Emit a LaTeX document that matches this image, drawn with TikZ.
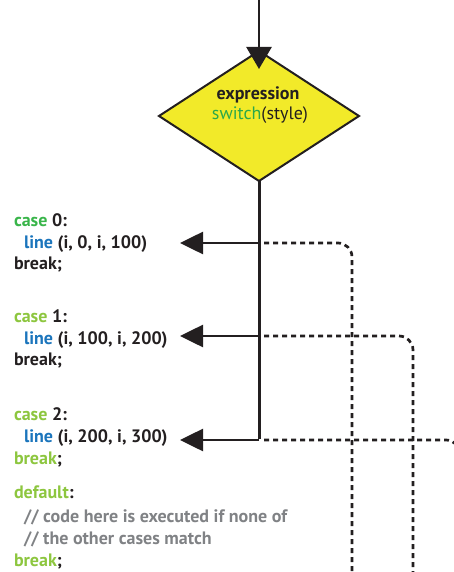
\documentclass[tikz,border=0pt]{standalone}
\usepackage{fontspec}
\setmainfont{PT Sans}
\definecolor{ink}{HTML}{231F20}
\definecolor{casegreen}{HTML}{39B54A}
\definecolor{leafgreen}{HTML}{8DC63F}
\definecolor{fngreen}{HTML}{2BA84A}
\definecolor{callblue}{HTML}{1B75BC}
\definecolor{remark}{HTML}{808285}
\definecolor{lemon}{HTML}{F2EA29}
\usetikzlibrary{arrows.meta}
\usetikzlibrary{shapes.geometric}
\usetikzlibrary{positioning}
\tikzstyle{base}=[x=1pt, y=-1pt, inner sep=0pt, outer sep=0pt]
\tikzstyle{code}=[anchor=base west, text=ink, font=\bfseries\fontsize{18}{18}\selectfont]
\tikzstyle{branch}=[ink, line width=2.6pt, -{Triangle[length=23pt,width=22pt]}]
\tikzstyle{fall}=[ink, line width=2.7pt, dash pattern=on 5pt off 4pt, rounded corners=14pt]

\begin{document}
\begin{tikzpicture}[base]
    \path [use as bounding box] (0,0) rectangle (454,572);
    % the decision
    \node [diamond, draw=ink, line width=2pt, fill=lemon,
           minimum width=200pt, minimum height=130pt] (expr) at (259,116) {};
    \node [anchor=base, text=ink, font=\bfseries\fontsize{18}{18}\selectfont]
          (exprname) at (258,100) {expression};
    \node [anchor=base, text=ink, font=\fontsize{18}{18}\selectfont]
          (exprcall) at (260,120) {\textcolor{fngreen}{switch}(style)};
    \coordinate (entry) at (259,0);
    \draw [branch, -{Triangle[length=22pt,width=25pt]}] (entry) -- ([yshift=-18pt]expr.north);
    % trunk and the three junctions
    \coordinate (j0) at (259,243);
    \coordinate (j1) at (259,336);
    \coordinate (j2) at (259,440);
    \coordinate (t0) at (180,243);
    \coordinate (t1) at (180,336);
    \coordinate (t2) at (180,440);
    \draw [ink, line width=3pt] (expr.south) -- ([yshift=1.3pt]j2);
    \draw [branch] (j0) -- (t0);
    \draw [branch] (j1) -- (t1);
    \draw [branch] (j2) -- (t2);
    % fall through paths
    \coordinate (f0) at (352,575);
    \coordinate (f1) at (413,575);
    \coordinate (f2) at (460,575);
    \draw [fall] ([xshift=5pt]j0) -| (f0);
    \draw [fall] ([xshift=5pt]j1) -| (f1);
    \draw [fall] ([xshift=5pt]j2) -| (f2);
    % the code
    \node [code] (case0) at (14,226) {\textcolor{casegreen}{case} 0:};
    \node [code] (line0) at (24,248) {\textcolor{callblue}{line} (i, 0, i, 100)};
    \node [code] (brk0)  at (14,269) {break;};
    \node [code] (case1) at (14,322) {\textcolor{leafgreen}{case} 1:};
    \node [code] (line1) at (24,344) {\textcolor{callblue}{line} (i, 100, i, 200)};
    \node [code] (brk1)  at (14,365) {break;};
    \node [code] (case2) at (14,420) {\textcolor{leafgreen}{case} 2:};
    \node [code] (line2) at (24,442) {\textcolor{callblue}{line} (i, 200, i, 300)};
    \node [code] (brk2)  at (14,464) {\textcolor{leafgreen}{break};};
    \node [code] (dflt)  at (14,498) {\textcolor{leafgreen}{default}:};
    \node [code, text=remark] (note0) at (24,522) {// code here is executed if none of};
    \node [code, text=remark] (note1) at (24,544) {// the other cases match};
    \node [code] (brk3)  at (14,566) {\textcolor{leafgreen}{break};};
\end{tikzpicture}
\end{document}
